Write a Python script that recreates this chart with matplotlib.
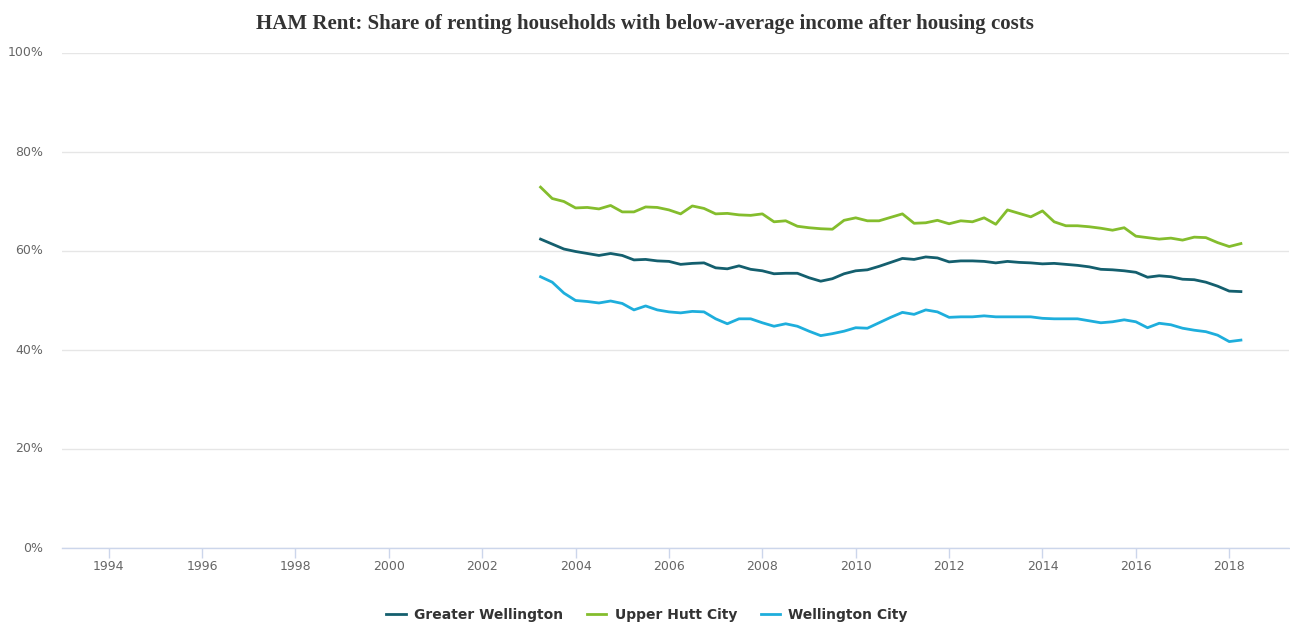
import matplotlib
matplotlib.use("Agg")
import matplotlib.pyplot as plt
import numpy as np

title = "HAM Rent: Share of renting households with below-average income after housing costs"
start_year = 2003.25
step = 0.25

greater_wellington = [62.4, 61.4, 60.4, 59.9, 59.5, 59.1, 59.5, 59.1, 58.2, 58.3, 58.0, 57.9, 57.3, 57.5, 57.6,
                      56.6, 56.4, 57.0, 56.3, 56.0, 55.4, 55.5, 55.5, 54.6, 53.9, 54.4, 55.4, 56.0, 56.2, 56.9,
                      57.7, 58.5, 58.3, 58.8, 58.6, 57.8, 58.0, 58.0, 57.9, 57.6, 57.9, 57.7, 57.6, 57.4,
                      57.5, 57.3, 57.1, 56.8, 56.3, 56.2, 56.0, 55.7, 54.7, 55.0, 54.8, 54.3, 54.2, 53.7,
                      52.9, 51.9, 51.8]
upper_hutt = [72.9, 70.6, 70.0, 68.7, 68.8, 68.5, 69.2, 67.9, 67.9, 68.9, 68.8, 68.3, 67.5, 69.1, 68.6,
              67.5, 67.6, 67.3, 67.2, 67.5, 65.9, 66.1, 65.0, 64.7, 64.5, 64.4, 66.2, 66.7, 66.1, 66.1,
              66.8, 67.5, 65.6, 65.7, 66.2, 65.5, 66.1, 65.9, 66.7, 65.4, 68.3, 67.6, 66.9, 68.1,
              65.9, 65.1, 65.1, 64.9, 64.6, 64.2, 64.7, 63.0, 62.7, 62.4, 62.6, 62.2, 62.8, 62.7,
              61.7, 60.9, 61.5]
wellington_city = [54.8, 53.7, 51.5, 50.0, 49.8, 49.5, 49.9, 49.4, 48.1, 48.9, 48.1, 47.7, 47.5, 47.8, 47.7,
                   46.3, 45.3, 46.3, 46.3, 45.5, 44.8, 45.3, 44.8, 43.8, 42.9, 43.3, 43.8, 44.5, 44.4, 45.5,
                   46.6, 47.6, 47.2, 48.1, 47.7, 46.6, 46.7, 46.7, 46.9, 46.7, 46.7, 46.7, 46.7, 46.4,
                   46.3, 46.3, 46.3, 45.9, 45.5, 45.7, 46.1, 45.7, 44.5, 45.4, 45.1, 44.4, 44.0, 43.7,
                   43.0, 41.7, 42.0]
series_names = ["Greater Wellington", "Upper Hutt City", "Wellington City"]
series_colors = ["#145f6e", "#84bd2d", "#1eaedc"]
x_ticks = list(range(1994, 2019, 2))
y_ticks = [0, 20, 40, 60, 80, 100]

years = start_year + step * np.arange(len(greater_wellington))

fig = plt.figure(figsize=(12.9, 6.26), dpi=100)
ax = fig.add_axes([62/1290, 1 - 548/626, (1289 - 62)/1290, (548 - 53)/626])

for name, vals, col in zip(series_names, [greater_wellington, upper_hutt, wellington_city], series_colors):
    ax.plot(years, vals, color=col, lw=2, label=name, solid_joinstyle="round")

ax.set_xlim(1993.0, 2019.28)
ax.set_ylim(0, 100)
ax.set_yticks(y_ticks)
ax.set_yticklabels([f"{v}%" for v in y_ticks])
ax.set_xticks(x_ticks)
ax.set_xticklabels([str(v) for v in x_ticks])

ax.grid(axis="y", color="#e6e6e6", lw=1)
ax.set_axisbelow(True)
for s in ["top", "right", "left"]:
    ax.spines[s].set_visible(False)
ax.spines["bottom"].set_color("#ccd6eb")
ax.spines["bottom"].set_linewidth(1)
ax.tick_params(axis="y", length=0, pad=13.5, labelsize=9, labelcolor="#666666")
ax.tick_params(axis="x", length=7, width=1, color="#ccd6eb", pad=2, labelsize=9, labelcolor="#666666")
for lbl in ax.get_yticklabels():
    lbl.set_verticalalignment("center")

fig.text(0.5, 1 - 24/626, title, ha="center", va="center", fontsize=15, fontweight="bold",
         family="Liberation Serif", color="#333333")

leg = fig.legend(loc="center", bbox_to_anchor=(647/1290, 1 - 615/626), ncol=3, frameon=False,
                 prop={"weight": "bold", "size": 10}, handlelength=1.4, columnspacing=1.7,
                 handletextpad=0.6)
for t in leg.get_texts():
    t.set_color("#333333")

fig.savefig("out.png", dpi=100, facecolor="white")
